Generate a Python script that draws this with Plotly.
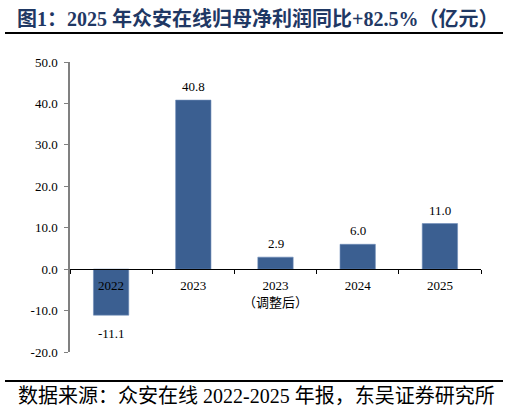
import plotly.graph_objects as go

categories = ["2022", "2023", "2023<br>（调整后）", "2024", "2025"]
values = [-11.1, 40.8, 2.9, 6.0, 11.0]
ytick_vals = [-20, -10, 0, 10, 20, 30, 40, 50]
ytick_text = ["-20.0", "-10.0", "0.0", "10.0", "20.0", "30.0", "40.0", "50.0"]

title_text = "<b>图1：2025 年众安在线归母净利润同比+82.5%（亿元）</b>"
source_text = "数据来源：众安在线 2022-2025 年报，东吴证券研究所"

FONT = "Liberation Serif, Times New Roman, Noto Sans CJK SC, serif"
W, H = 509, 414
L, R, T, B = 70, 28, 62, 62
pw, ph = W - L - R, H - T - B

def px_x(x):
    return (x - L) / pw

def px_y(y):
    return (H - B - y) / ph

fig = go.Figure()
fig.add_trace(go.Bar(
    x=categories, y=values,
    marker=dict(color="#3B5F91", line=dict(color="#6F8DB8", width=0.6)),
    width=0.43,
    cliponaxis=False,
))

# value labels; x given as category index on the category axis
for i, v in enumerate(values):
    fig.add_annotation(
        x=i, y=v, xref="x", yref="y", text=f"{v:.1f}", showarrow=False,
        yanchor="bottom" if v >= 0 else "top",
        yshift=4 if v >= 0 else -9,
        font=dict(family=FONT, size=13, color="#000000"),
    )

ymin, ymax = -20, 50
fig.update_layout(
    width=W, height=H,
    margin=dict(l=L, r=R, t=T, b=B),
    paper_bgcolor="white", plot_bgcolor="white",
    showlegend=False,
    font=dict(family=FONT, color="#000000"),
    title=dict(text=title_text, xref="container", yref="container",
               x=17 / W, xanchor="left", y=1 - 19 / H, yanchor="middle",
               font=dict(family=FONT, size=20, color="#1F3864")),
    xaxis=dict(
        type="category", categoryorder="array", categoryarray=categories,
        range=[-0.5, len(categories) - 0.5],
        anchor="free", position=(0 - ymin) / (ymax - ymin),
        showline=True, linecolor="#000000", linewidth=1,
        ticks="outside", tickson="boundaries", ticklen=4, tickcolor="#000000",
        ticklabelstandoff=4, tickangle=0,
        tickfont=dict(family=FONT, size=13, color="#000000"),
        showgrid=False, zeroline=False,
    ),
    yaxis=dict(
        range=[ymin, ymax], tickvals=ytick_vals, ticktext=ytick_text,
        showline=True, linecolor="#808080", linewidth=1.5,
        ticks="outside", ticklen=4, tickcolor="#808080",
        ticklabelstandoff=4,
        tickfont=dict(family=FONT, size=13, color="#000000"),
        showgrid=False, zeroline=False,
    ),
    bargap=0.5,
)

fig.add_shape(type="line", xref="paper", yref="paper",
              x0=px_x(5), x1=px_x(503), y0=px_y(33), y1=px_y(33),
              line=dict(color="#000000", width=2))
fig.add_shape(type="line", xref="paper", yref="paper",
              x0=px_x(5), x1=px_x(503), y0=px_y(381), y1=px_y(381),
              line=dict(color="#000000", width=2))
fig.add_annotation(text=source_text, xref="paper", yref="paper",
                   x=px_x(16), y=px_y(396), xanchor="left", yanchor="middle",
                   showarrow=False, font=dict(family=FONT, size=20, color="#000000"))

fig.write_html("out.html")
